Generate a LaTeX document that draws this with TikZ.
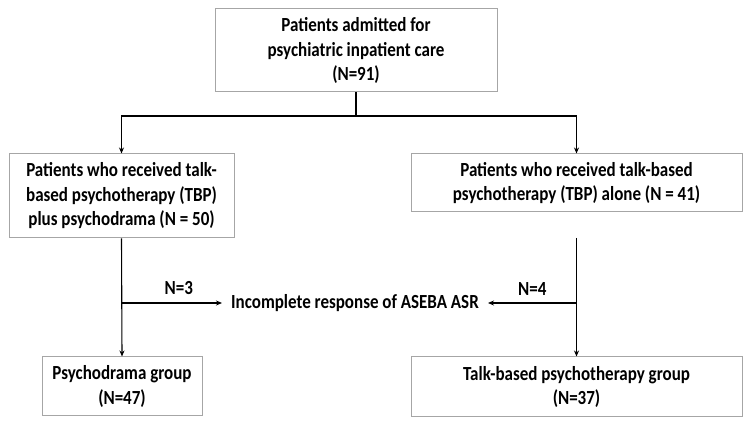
\documentclass[tikz,border=0pt]{standalone}
\usepackage{fontspec}
\setmainfont{Carlito}[FakeStretch=0.85]
\usetikzlibrary{arrows.meta, positioning}

\begin{document}
\begin{tikzpicture}[
  x=1pt, y=-1pt,
  txt/.style={font=\bfseries\fontsize{20}{24.5}\selectfont},
  box/.style={txt, draw=gray!70, line width=1pt, align=center, inner sep=2pt},
  flow/.style={-{Stealth[length=6pt, width=5pt]}, line width=1.1pt},
  link/.style={line width=1.1pt}
]
  \useasboundingbox (0,0) rectangle (748,427);

  \node[box, minimum width=282pt, minimum height=83pt] (admit) at (356,50.5)
    {Patients admitted for\\psychiatric inpatient care\\(N=91)};
  \node[box, minimum width=225pt, minimum height=84pt] (tbppd) at (121.5,196)
    {Patients who received talk-\\based psychotherapy (TBP)\\plus psychodrama (N = 50)};
  \node[box, minimum width=331pt, minimum height=58pt] (tbp) at (576.5,183)
    {Patients who received talk-based\\psychotherapy (TBP) alone (N = 41)};
  \node[box, minimum width=160pt, minimum height=59pt] (pdgroup) at (122,386.5)
    {Psychodrama group\\(N=47)};
  \node[box, minimum width=331pt, minimum height=60pt] (tbpgroup) at (576.5,387)
    {Talk-based psychotherapy group\\(N=37)};
  \node[txt, inner xsep=9pt] (incomplete) at (355,303) {Incomplete response of ASEBA ASR};

  \coordinate (split) at (356,116);
  \coordinate (gap) at (576.5,238);

  \draw[link] (admit.south) -- (split);
  \draw[flow] (split) -| (tbppd.north);
  \draw[flow] (split) -| (tbp.north);
  \draw[flow] (tbppd.south) -- (pdgroup.north);
  \draw[flow] (gap) -- (tbpgroup.north);
  \draw[flow] (tbppd.south |- incomplete.west) -- node[txt, above=4pt, pos=0.57] (lossL) {N=3} (incomplete.west);
  \draw[flow] (gap |- incomplete.east) -- node[txt, above=4pt] (lossR) {N=4} (incomplete.east);
\end{tikzpicture}
\end{document}
